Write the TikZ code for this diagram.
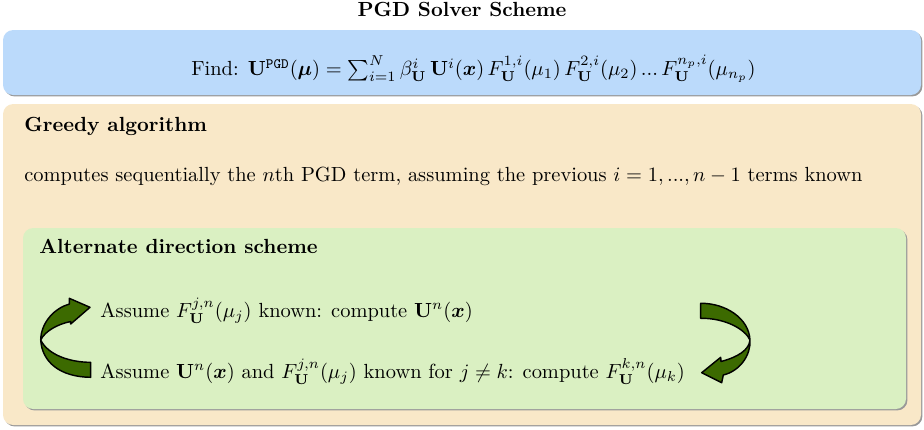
\documentclass[tikz,border=0pt]{standalone}
\usepackage{amsmath,amssymb}
\usetikzlibrary{shadows}
\definecolor{boxblue}{RGB}{187,218,251}
\definecolor{boxorange}{RGB}{249,232,200}
\definecolor{boxgreen}{RGB}{218,240,194}
\definecolor{arrowgreen}{RGB}{60,106,0}
\tikzset{
  panel/.style={rounded corners=5pt, drop shadow={shadow xshift=0.7pt, shadow yshift=-0.7pt, fill=black!40, opacity=1}},
  boxtitle/.style={anchor=base west, inner sep=0pt, font=\bfseries},
  boxtext/.style={anchor=base west, inner sep=0pt},
  bentarrow/.style={fill=arrowgreen, draw=black, line width=0.7pt, line join=round}
}
\begin{document}
\begin{tikzpicture}[x=0.489pt, y=-0.489pt]
\useasboundingbox (0,0) rectangle (924,429);
\node[anchor=base, inner sep=0pt, font=\bfseries] (title) at (462,16.5) {PGD Solver Scheme};
\path[panel, fill=boxblue] (3,30) rectangle (921,95);
\node[anchor=base, inner sep=0pt] (find) at (473.5,75.5) {Find: $\mathbf{U}^{\texttt{PGD}}(\boldsymbol{\mu}) = \sum_{i=1}^N \beta_{\mathbf{U}}^i\,\mathbf{U}^i(\boldsymbol{x})\,F_{\mathbf{U}}^{1,i}(\mu_1)\,F_{\mathbf{U}}^{2,i}(\mu_2)\,...\,F_{\mathbf{U}}^{n_p,i}(\mu_{n_p})$};
\path[panel, fill=boxorange] (3,104) rectangle (921,425);
\node[boxtitle] (greedy) at (24,131.5) {Greedy algorithm};
\node[boxtext] (computes) at (24,181.5) {computes sequentially the $n$th PGD term, assuming the previous $i=1,...,n-1$ terms known};
\path[panel, fill=boxgreen] (23,228) rectangle (906,409);
\node[boxtitle] (alt) at (39,253) {Alternate direction scheme};
\node[boxtext] (l1) at (100,317) {Assume $F_{\mathbf{U}}^{j,n}(\mu_j)$ known: compute $\mathbf{U}^n(\boldsymbol{x})$};
\node[boxtext] (l2) at (100,378) {Assume $\mathbf{U}^n(\boldsymbol{x})$ and $F_{\mathbf{U}}^{j,n}(\mu_j)$ known for $j\neq k$: compute $F_{\mathbf{U}}^{k,n}(\mu_k)$};
% left bent arrow
\draw[bentarrow] (90.7,362.3) .. controls (70,362.3) and (48,355) .. (40.7,340)
  .. controls (45,331) and (58,324) .. (70.7,321.5)
  -- (70.7,324) -- (90,307.3) -- (69.3,298.3) -- (69.4,304)
  .. controls (55,308) and (41,322) .. (40.7,340)
  .. controls (42,362) and (60,377) .. (90.7,377.3) -- cycle;
% right bent arrow
\draw[bentarrow] (700.7,318.3) -- (700.7,303.3)
  .. controls (725,303) and (749,318) .. (750,340)
  .. controls (751,355) and (740,371) .. (723.3,375)
  -- (721.7,382.7) -- (701.7,372.7) -- (720.7,357.3) -- (721,361.5)
  .. controls (738,357) and (749,350) .. (750,340)
  .. controls (745,329) and (725,318) .. (700.7,318.3) -- cycle;
\end{tikzpicture}
\end{document}
